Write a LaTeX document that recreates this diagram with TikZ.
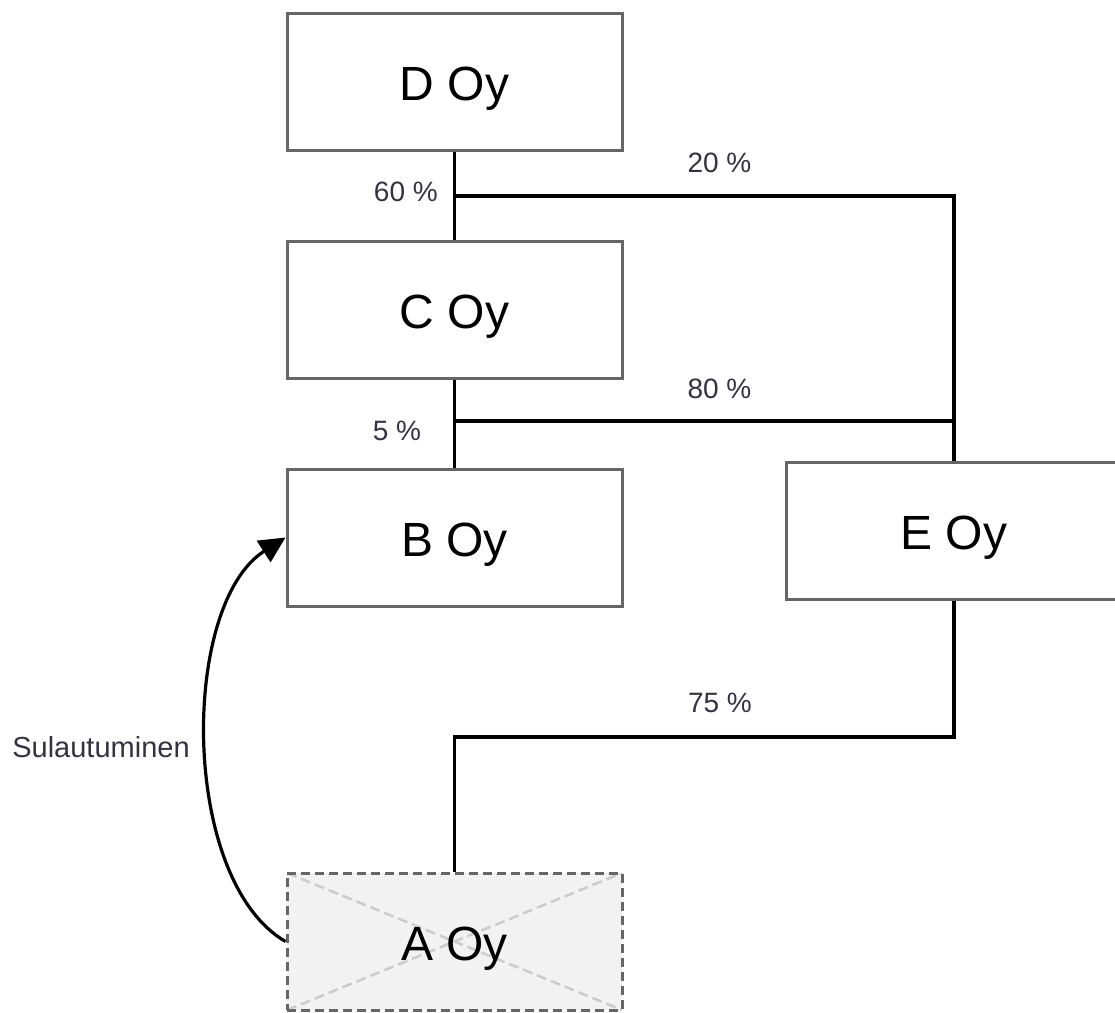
\documentclass[tikz,border=0pt]{standalone}
\usepackage{fontspec}
\setmainfont{Liberation Sans}
\usetikzlibrary{arrows.meta,calc}
\definecolor{boxline}{HTML}{666666}
\definecolor{labelink}{HTML}{333340}
\definecolor{ghostfill}{HTML}{F2F2F2}
\definecolor{ghostcross}{HTML}{CCCCCC}
\begin{document}
\begin{tikzpicture}[x=1pt,y=-1pt,
  company/.style={draw=boxline, line width=3pt, fill=white,
    minimum width=335pt, minimum height=137pt, inner sep=0pt,
    text height=37pt, text depth=0pt, font=\fontsize{48}{56}\selectfont},
  ghost/.style={company, fill=ghostfill, dash pattern=on 9pt off 5pt,
    path picture={
      \draw[ghostcross, line width=2.5pt, dash pattern=on 10pt off 5pt]
        (path picture bounding box.north west) -- (path picture bounding box.south east)
        (path picture bounding box.south west) -- (path picture bounding box.north east);
    }},
  share/.style={text=labelink, font=\fontsize{28}{32}\selectfont, inner sep=0pt},
  link/.style={line width=3.2pt, black}
]
\useasboundingbox (0,0) rectangle (1115,1012);

% companies
\node[company] (D) at (454.5,81.5) {D Oy};
\node[company] (C) at (454.5,309.5) {C Oy};
\node[company] (B) at (454.5,537.5) {B Oy};
\node[company] (E) at (954,531) {E Oy};
\node[ghost]   (A) at (454.5,941.5) {A Oy};

% ownership lines
\coordinate (dsplit) at (454.5,196);
\coordinate (csplit) at (454.5,421);
\coordinate (ebend) at (954,737);
\draw[link] (D.south) -- (C.north);
\draw[link] (dsplit) -| (E.north);
\draw[link] (C.south) -- (B.north);
\draw[link] (csplit) -- (csplit -| E.north);
\draw[link] (E.south) |- (A.north |- ebend) -- (A.north);

% merger arrow
\draw[link, -{Triangle[length=26pt,width=25pt]}]
  (A.west) .. controls (180,880) and (180,605) .. (B.west);

% share labels
\node[share, anchor=east] (l60) at (438,192) {60 \%};
\node[share] (l20) at (719.5,163) {20 \%};
\node[share] (l80) at (719.5,389) {80 \%};
\node[share] (l5)  at (397,431) {5 \%};
\node[share] (l75) at (720,703) {75 \%};
\node[share, font=\fontsize{29}{33}\selectfont] (merge) at (101,747) {Sulautuminen};
\end{tikzpicture}
\end{document}
